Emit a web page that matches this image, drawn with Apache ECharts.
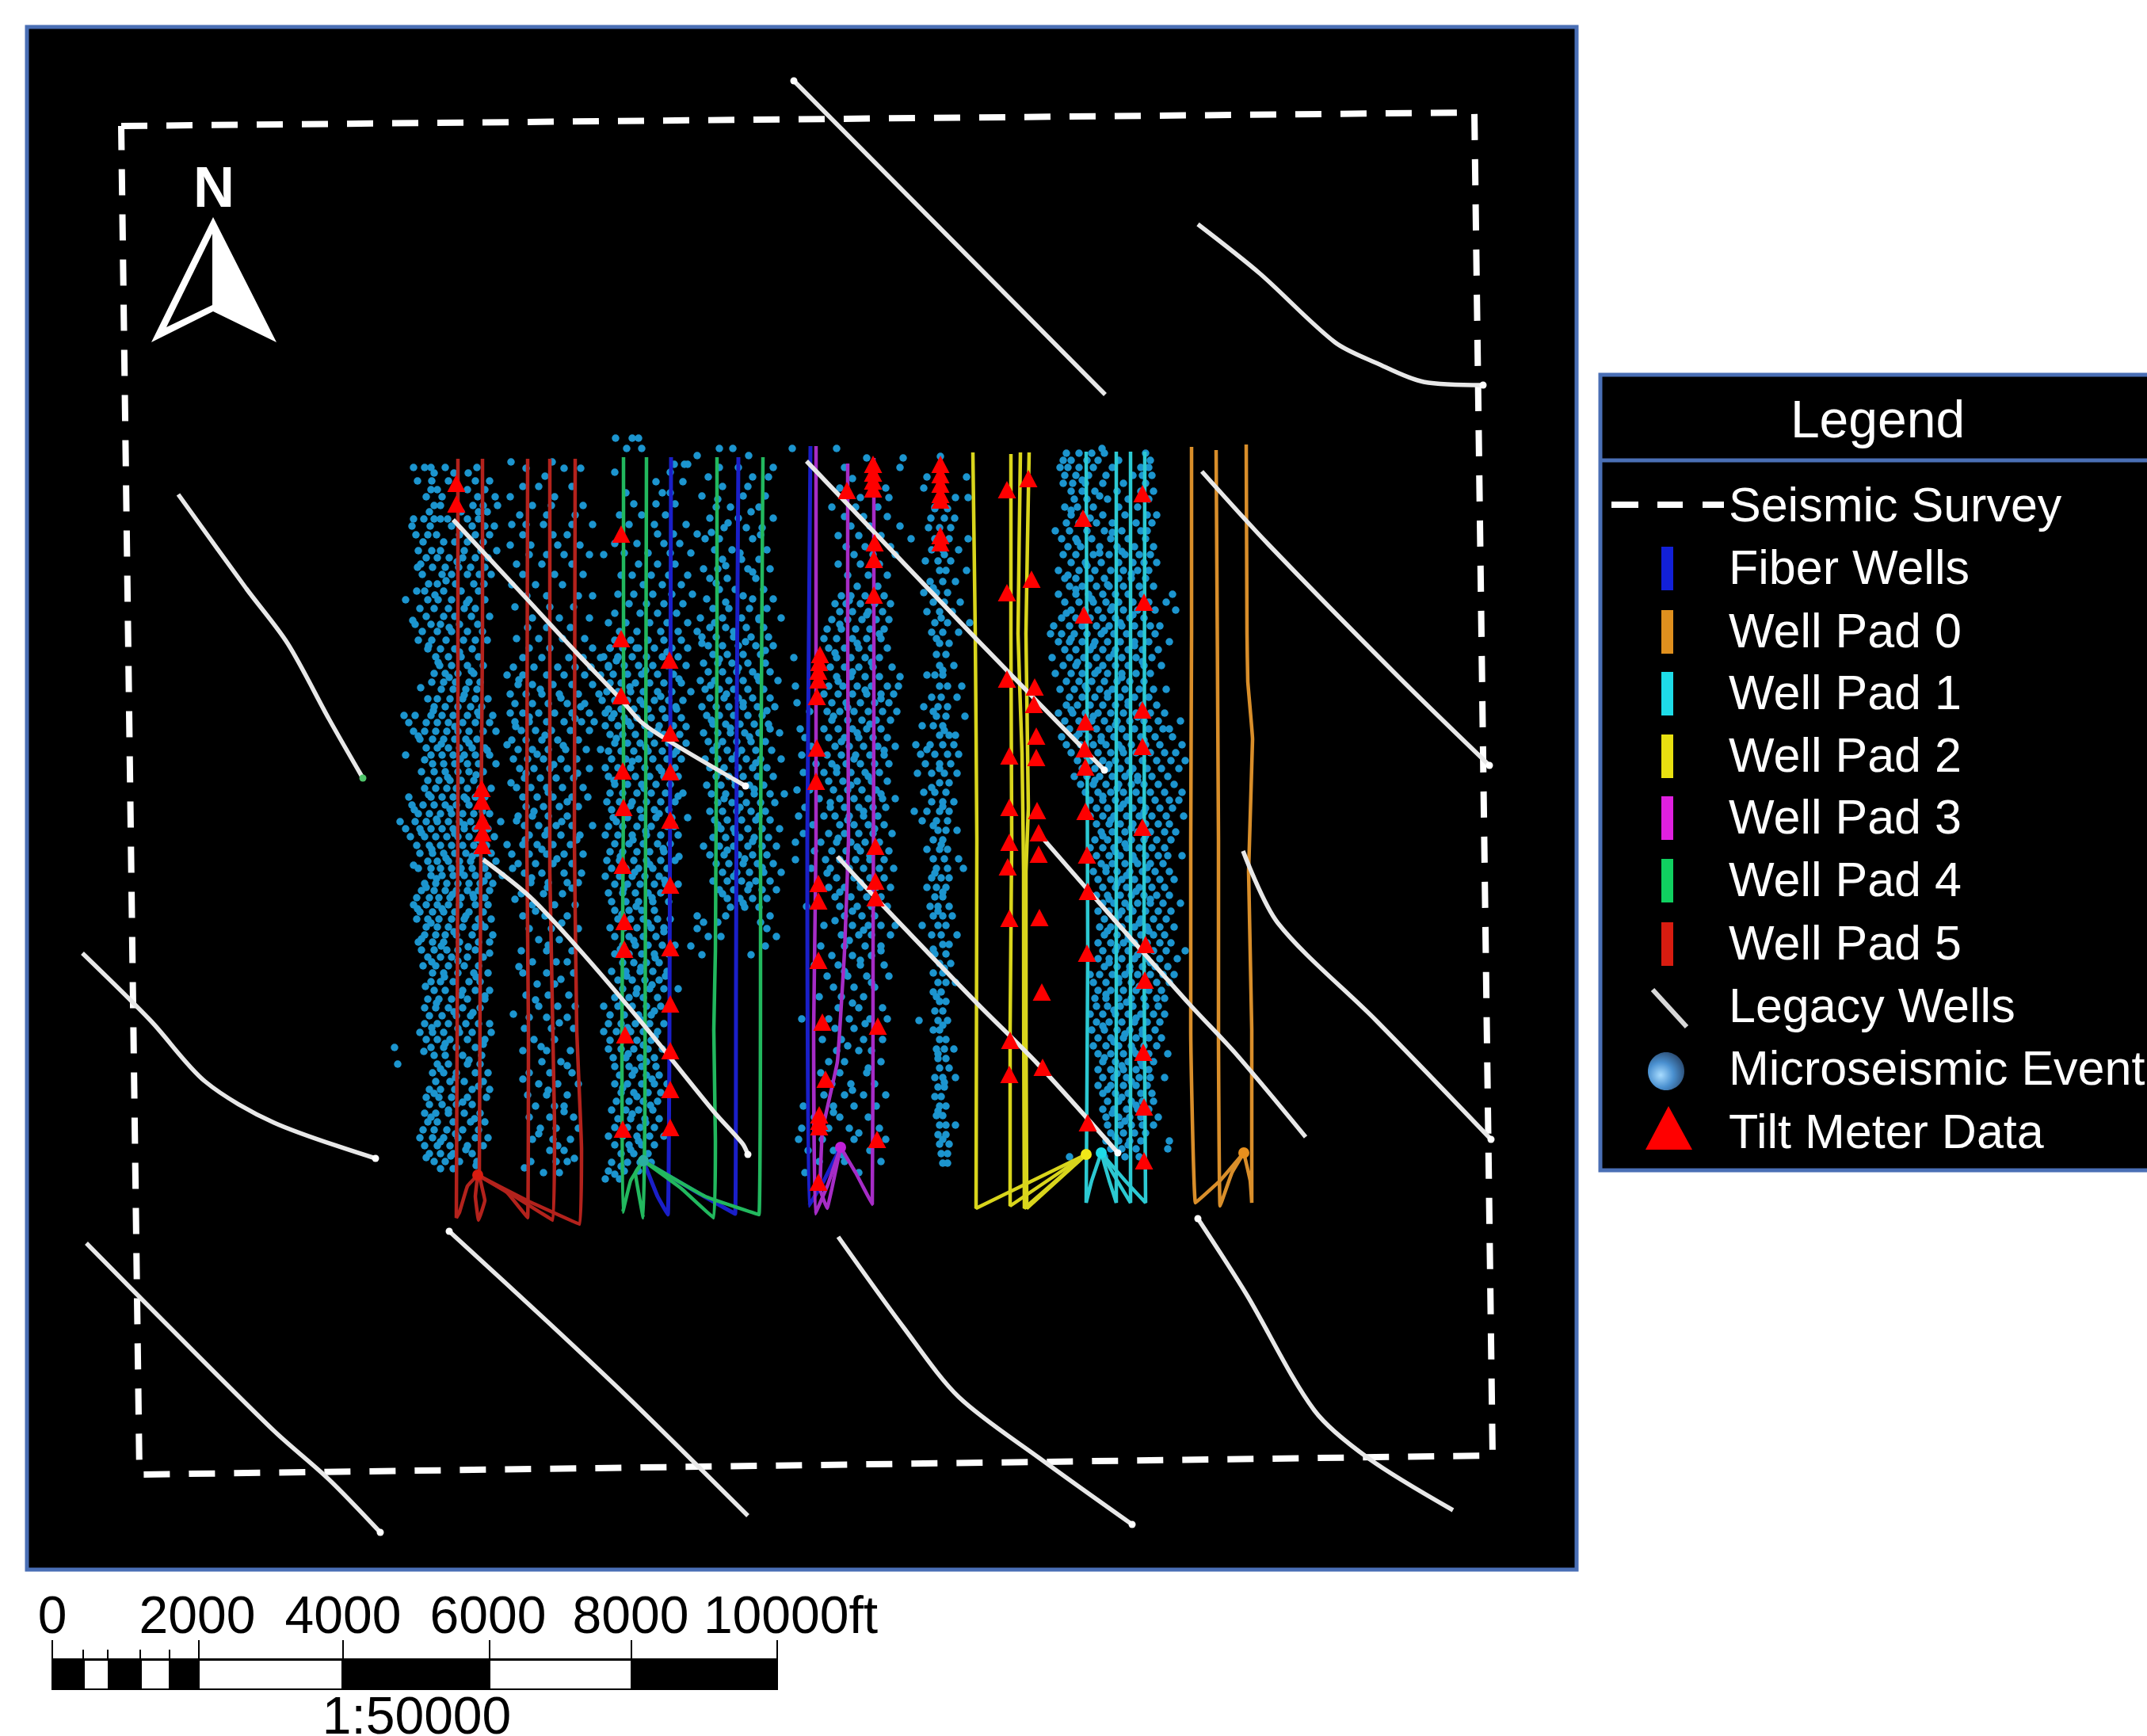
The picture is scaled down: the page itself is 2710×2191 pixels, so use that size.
<!DOCTYPE html>
<html>
<head>
<meta charset="utf-8">
<style>html,body{margin:0;padding:0;background:#fff}#c{width:2710px;height:2191px}</style>
<script src="https://cdn.jsdelivr.net/npm/echarts@6/dist/echarts.min.js"></script>
</head>
<body>
<div id="c"></div>
<script>
// All map data are in picture coordinates.
const surveyBoundary = [[153,159],[1861,142],[1884,1837],[176,1861],[153,159]];

const legacyWells = [
 [[1395,498],[1002,102]],
 [[1512,283],[1590,345],[1685,432],[1737,458],[1797,482],[1872,486]],
 [[1517,595],[1600,686],[1767,856],[1880,966]],
 [[1569,1074],[1613,1165],[1737,1288],[1882,1438]],
 [[1318,1060],[1373,1123],[1501,1267],[1560,1330],[1648,1435]],
 [[1018,582],[1230,804],[1394,972]],
 [[1057,1081],[1107,1135],[1230,1263],[1310,1343],[1411,1455]],
 [[572,656],[667,758],[726,822],[784,883],[809,911],[844,935],[941,992]],
 [[610,1085],[669,1132],[730,1197],[812,1293],[901,1403],[937,1443],[944,1457]],
 [[225,624],[311,743],[363,812],[415,907],[458,982]],
 [[104,1203],[190,1288],[259,1365],[346,1417],[474,1462]],
 [[109,1569],[207,1668],[346,1806],[415,1867],[480,1934]],
 [[944,1913],[795,1766],[691,1668],[567,1554]],
 [[1058,1561],[1141,1676],[1210,1763],[1313,1841],[1429,1924]],
 [[1834,1906],[1728,1841],[1659,1780],[1573,1633],[1512,1538]]
];

const fiberWells = [
 [[812,1465],[830,1510],[843,1533],[845,1300],[847,577]],
 [[812,1465],[880,1505],[928,1532],[929,1250],[930,900],[932,577]],
 [[1061,1448],[1040,1490],[1021,1522],[1019,1060],[1023,563]]
];
const wellPad0 = [
 [[1570,1455],[1540,1490],[1509,1518],[1503,1300],[1503,1060],[1504,800],[1504,564]],
 [[1570,1455],[1555,1480],[1540,1522],[1538,1300],[1538,1060],[1535,568]],
 [[1570,1455],[1578,1490],[1580,1518],[1580,1300],[1576,1100],[1581,933],[1575,860],[1574,800],[1573,561]]
];
const wellPad1 = [
 [[1390,1455],[1378,1490],[1371,1518],[1373,1200],[1371,570]],
 [[1390,1455],[1400,1490],[1409,1518],[1409,570]],
 [[1390,1455],[1410,1490],[1427,1518],[1427,570]],
 [[1390,1455],[1420,1490],[1446,1518],[1444,1200],[1445,570]]
];
const wellPad2 = [
 [[1371,1457],[1232,1525],[1233,1060],[1231,800],[1228,571]],
 [[1371,1457],[1275,1522],[1275,1300],[1277,1060],[1276,800],[1276,573]],
 [[1371,1457],[1293,1525],[1292,1100],[1290,950],[1285,800],[1288,571]],
 [[1371,1457],[1296,1525],[1295,1100],[1298,1020],[1295,800],[1299,571]]
];
const wellPad3 = [
 [[1061,1448],[1045,1495],[1029,1532],[1027,1300],[1030,1060],[1030,563]],
 [[1061,1448],[1050,1500],[1044,1525],[1035,1500],[1038,1427],[1057,1340],[1066,1200],[1071,1060],[1070,800],[1070,585]],
 [[1061,1448],[1080,1480],[1101,1520],[1102,1200],[1103,900],[1103,578]]
];
const wellPad4 = [
 [[812,1465],[796,1490],[786,1530],[785,1300],[787,1000],[787,577]],
 [[812,1465],[802,1480],[812,1537],[814,1400],[815,1000],[816,577]],
 [[812,1465],[860,1500],[901,1537],[903,1440],[901,1300],[903,1200],[905,800],[905,577]],
 [[812,1465],[890,1510],[958,1533],[960,1173],[960,1060],[963,577]]
];
const wellPad5 = [
 [[603,1483],[590,1497],[580,1530],[576,1537],[577,1300],[578,1000],[578,579]],
 [[603,1483],[600,1510],[604,1540],[612,1515],[605,1483],[607,1060],[609,800],[609,579]],
 [[603,1483],[640,1505],[666,1537],[667,1300],[665,1060],[666,579]],
 [[603,1483],[650,1510],[698,1540],[700,1420],[694,1100],[694,579]],
 [[603,1483],[665,1515],[732,1545],[734,1450],[728,1300],[725,1060],[726,579]]
];

const tiltMeters = [
 [576,610],[576,636],[784,674],[784,806],[845,833],[784,878],[846,925],[786,973],[846,974],[787,1019],[846,1035],[786,1092],
 [608,995],[608,1011],[609,1036],[609,1051],[609,1067],[846,1117],[788,1163],[846,1196],[788,1198],[846,1267],[789,1306],[846,1326],[846,1375],[786,1425],[846,1423],
 [1069,619],[1102,586],[1102,597],[1102,607],[1102,617],[1104,685],[1103,706],[1103,751],
 [1187,586],[1187,599],[1187,611],[1187,624],[1187,631],[1187,676],[1187,685],
 [1271,618],[1298,604],[1271,748],[1302,731],[1271,857],[1306,867],[1305,889],[1308,929],[1308,956],[1274,954],[1274,1019],[1309,1023],[1311,1051],[1274,1063],[1311,1078],[1272,1094],
 [1035,826],[1034,836],[1033,847],[1033,858],[1031,879],[1031,944],[1030,986],[1105,1068],
 [1442,623],[1367,654],[1368,776],[1444,760],[1442,896],[1370,911],[1442,942],[1369,945],[1370,968],[1370,1024],[1442,1044],[1372,1079],
 [1033,1115],[1033,1137],[1105,1112],[1105,1133],[1033,1212],[1038,1290],[1108,1295],[1042,1362],[1034,1407],[1034,1415],[1034,1422],[1107,1438],[1033,1492],
 [1274,1159],[1312,1158],[1315,1252],[1275,1313],[1316,1347],[1274,1356],
 [1373,1125],[1372,1203],[1446,1192],[1445,1237],[1443,1328],[1444,1397],[1373,1417],[1444,1465]
];

// Microseismic events: each row is [y, x, x, x ...], one list per swarm.
const eventsA = [
 [590,522,536,544,562,602],[597,548,573,591],[607,527,545,566,600,618],[618,544,552,590,612],[627,538,558,603,625],[638,548,556,597,610,628],
 [646,542,582,604,615],[655,522,535,548,556,565,590,604],[664,520,543,570,596,612,624],[675,525,540,551,580,600,618],[684,534,560,574,590,610],
 [695,528,545,556,586,607,627],[704,538,552,567,584,600,616],[716,527,546,562,579,594,612],[725,533,558,570,590,605,620],[737,541,552,575,598,611],
 [746,526,536,560,582,604],[757,512,540,553,570,592,612],[768,530,548,566,586,600],[778,538,560,574,595,618],[788,524,544,556,580,603],
 [797,533,552,570,590,609],[808,528,545,563,585,600,615],[819,540,556,574,596],[829,550,566,582,604],[840,555,570,590,610],[850,548,562,578,598],
 [861,545,560,575,592,606],[870,557,572,588,602],[882,540,552,568,584,600,616],[892,548,562,578,594,608],[903,510,524,544,558,572,590,605,622],
 [912,516,538,552,566,584,600,618],[923,522,536,550,564,578,592,610,626],[933,530,546,560,574,588,602],[944,538,552,566,580,596,612],
 [953,512,544,558,572,586,600,618],[964,546,560,574,590,604,626],[974,532,548,562,578,592,610],[985,540,554,568,582,598],[995,536,550,564,576,590,606,620],
 [1006,516,544,558,572,586,600,612],[1016,520,534,548,562,576,592,608],[1027,528,542,556,570,584,598,618],[1037,505,524,538,552,566,580,594,610,632],
 [1046,512,530,544,558,572,586,600,616],[1056,518,536,550,564,578,592,608,624],[1067,526,542,556,570,584,598,614],[1077,530,546,560,574,588,602,620],
 [1087,540,552,566,580,594,610,626],[1096,528,544,556,570,582,596,612],[1105,544,558,572,586,600,616,634],[1115,536,550,564,578,592,606,622],
 [1124,532,548,562,576,590,604,618],[1133,526,542,554,568,582,598,612],[1142,522,538,552,566,580,600,616],[1151,530,546,560,574,592,610],
 [1160,526,540,554,570,586,604,620],[1170,538,552,566,584,600,612],[1180,536,550,562,576,596,622],[1189,528,546,560,580,604,618],
 [1199,532,548,564,578,600],[1208,540,556,570,590,610],[1219,534,550,566,586,604],[1228,546,560,578,598,616],[1239,544,556,572,592,606],
 [1250,548,562,584,600,618],[1261,540,554,570,590,612],[1272,536,550,566,584,606],[1282,542,558,576,594],[1292,536,552,566,588,604,618],
 [1303,530,546,560,580,596,620],[1312,538,552,568,590,612],[1322,498,544,560,576,600],[1332,548,562,584,608],[1343,502,552,566,590,606],
 [1354,546,560,576,600,616],[1365,550,568,586,610],[1375,542,556,574,596,618],[1385,538,554,570,590,614],[1394,542,558,576,596],
 [1405,536,550,566,586,606],[1416,540,552,572,594,612],[1426,534,548,564,584,604],[1436,530,546,560,578,600,616],[1446,536,552,568,590,610],
 [1456,542,556,572,596],[1466,548,562,580,602],[1475,556,572]
];
const eventsB = [
 [583,645,697],[591,664,712,733],[601,688],[614,660,680,722],[627,644,700],[638,672,696,736],[650,656,690,726],[662,646,664,686,722,748],
 [675,660,698,716],[688,644,670,704,732],[700,668,690,712,744,762],[712,652,684,722],[725,660,700,736],[738,646,676,710],[752,665,690,730,748],
 [766,650,694,724],[780,672,706,744],[792,666,690,720],[806,652,680,710,738],[818,668,694,748,770],[830,660,684,718,736,758,780],[842,648,674,704,726,746,768],
 [852,640,660,690,712,738,758],[864,654,672,698,722,748],[876,644,664,684,706,730,756],[888,650,672,692,716,738],[900,644,660,680,700,722,744,764],
 [911,650,668,690,712,734,750],[922,658,676,696,720,744],[934,646,664,684,704,730],[946,654,672,692,714,740,758],[958,648,666,686,708,728],
 [970,656,674,694,716,744],[982,662,682,702,724],[994,652,670,690,710,736],[1006,660,678,698,722,742],[1018,664,686,706,730],[1030,654,672,692,716],
 [1042,662,680,702,722,748],[1054,668,688,708,732],[1066,640,660,678,698,720],[1078,646,668,690,712,736],[1090,654,676,698,722],[1102,662,684,712,734],
 [1114,670,692,716,730],[1128,658,686,710],[1142,672,700,726],[1156,660,688,716],[1172,668,696,730],[1186,680,706],[1200,658,690,722],[1214,672,702,716],
 [1228,660,690,724],[1242,678,700],[1256,664,692,718],[1270,680,704,726],[1284,668,690,716],[1298,662,696,724],[1312,674,700],[1326,660,690,720],
 [1340,684,708],[1354,668,694,722],[1368,680,704,730],[1382,666,690,716],[1396,676,700,712],[1410,668,694,724],[1424,682,702,730],[1438,672,698,720],
 [1452,694,712],[1466,670,702,716],[1480,686,706]
];
const eventsC = [
 [553,777,798,806],[566,791,810],[586,864,851,868],[596,776,846],[608,828,862],[622,790,836,846],[636,800,828,852],[650,782,810,840],
 [662,794,826,866],[674,830,850,880],[686,776,804,838,858],[698,788,818,846,872],[712,806,830,852],[726,784,798,822,844,868],[738,812,836,860],
 [750,780,800,824,848,874],[762,794,816,838,862],[774,776,808,830,854],[786,768,790,820,842,868],[797,782,804,834,856,880],[808,776,796,818,838,860],
 [818,770,786,806,826,848,868],[829,762,780,798,816,836,856],[840,768,788,806,824,842,866],[851,774,792,810,830,850],[862,770,784,802,820,838,860],
 [873,766,780,796,812,830,848,872],[884,760,776,792,808,826,844,862],[895,768,784,800,818,836,854],[906,772,788,804,822,840,860],[916,764,780,796,814,832,850],
 [927,770,786,802,820,838,858],[938,776,792,808,826,844,866],[948,768,784,800,818,836,854],[958,772,790,806,824,842,860],[969,764,780,796,814,832,852],
 [980,768,786,802,820,838,856],[990,776,792,810,828,846],[1001,770,786,804,822,840,862],[1012,766,782,798,816,834,852],[1022,772,790,808,826,844],
 [1032,774,792,810,828,848,868],[1043,768,786,804,822,842],[1054,764,780,798,816,834,856],[1065,776,794,812,830,846],[1075,770,786,804,820,838],
 [1086,766,782,800,816,834,852],[1096,772,790,806,824,842],[1106,764,782,798,814,832],[1116,776,792,808,826,840,856],[1127,768,786,802,818,834],
 [1138,772,790,806,824,844],[1149,776,794,810,826],[1160,780,796,812,830,846],[1171,770,788,804,822,838],[1182,776,794,812,828],[1193,786,802,818,836,852],
 [1204,776,794,810,826,844],[1215,786,800,816,832],[1226,772,790,808,824,842],[1237,780,798,814,832],[1248,786,804,820,838,856],[1259,776,794,812,830],
 [1270,762,780,798,816,834],[1281,770,788,806,822],[1292,768,784,802,820,838],[1302,762,778,796,812,830],[1313,770,786,804,822],[1324,768,784,800,818,836],
 [1335,774,790,808,826],[1346,776,794,810,828],[1357,782,798,816,832],[1368,776,792,810,826,842],[1379,784,800,818,834],[1390,778,794,812,830],
 [1401,772,790,806,824],[1412,780,796,814,832],[1423,776,792,808,826],[1434,768,786,804,820,838],[1445,776,794,810,826],[1456,784,800,818],[1467,772,792,808,822],
 [1478,768,788,806],[1488,764,782]
];
const eventsD = [
 [566,908,925],[575,880,945],[590,908,932,976],[602,894,950,970],[614,912,944],[626,886,938,966],[640,904,922,958],[654,896,932,976],[666,914,942,962],
 [680,890,908,950],[694,902,924,968],[706,912,936,958],[718,888,906,944,972],[730,896,918,954],[744,908,928,964],[756,892,950,976],[768,900,920,946,968],
 [780,884,912,936,958,986],[792,896,916,942,964],[804,886,904,926,948,970],[815,894,912,932,954,976],[826,900,918,938,960],[837,888,906,924,944,966],
 [848,894,912,930,950,972],[859,884,902,920,938,958,982],[870,890,908,926,944,964],[881,896,914,932,950,972],[892,886,904,920,938,956,978],
 [903,892,908,926,944,962],[914,900,916,934,952,970],[925,888,906,922,940,958,984],[936,894,912,930,948,966],[947,900,918,936,954,974],[958,890,906,924,942,960,986],
 [969,896,914,932,950,968],[980,904,920,938,956,976],[991,892,910,928,946,964],[1002,898,916,934,952,972,990],[1013,906,924,942,960,978],[1024,896,912,930,948,966],
 [1035,902,918,936,954,972],[1046,910,926,944,962,984],[1057,900,916,934,952,970],[1068,888,908,926,944,962,980],[1079,896,914,932,950,968],[1090,904,920,938,956,976],
 [1101,912,930,946,964,986],[1112,900,918,936,954,972],[1123,908,926,944,962,980],[1134,918,934,950,968],[1145,922,940,958],[1156,880,916,972],[1164,888,906,960],
 [1172,880,968],[1182,894,910,980],[1194,872,966],[1205,886,948]
];
const eventsE = [
 [566,1000,1056],[578,1094,1140],[590,1066,1136],[604,1076,1100],[616,1060,1118],[628,1068,1086,1122],[640,1080,1108,1050],[652,1066,1090,1120],[664,1074,1098,1136],
 [676,1058,1084,1112],[690,1068,1092,1124],[700,1078,1102,1130],[712,1058,1086,1110],[726,1070,1096,1120],[740,1082,1108],[752,1062,1074,1092,1116],[762,1054,1068,1086,1104,1124],
 [772,1060,1076,1096,1114],[782,1050,1070,1088,1106,1122],[794,1044,1062,1080,1098,1116],[806,1040,1056,1076,1094,1112],[818,1046,1066,1084,1100,1120],[830,1002,1056,1074,1092,1110],
 [842,1048,1066,1084,1102,1126],[854,1056,1074,1092,1110,1136],[866,1004,1046,1064,1082,1100,1120,1134],[876,1040,1058,1076,1094,1112,1128],[887,1006,1050,1068,1086,1104,1122],
 [898,1022,1044,1060,1078,1096,1114,1132],[909,1050,1070,1088,1106,1124],[920,1010,1040,1058,1076,1094,1112],[931,1016,1046,1066,1084,1102,1120],[942,1024,1054,1072,1090,1108,1130],
 [953,1012,1044,1062,1080,1098,1116],[964,1030,1050,1068,1086,1104,1122],[975,1014,1040,1056,1074,1092,1110],[986,1046,1064,1082,1100,1120],[997,1006,1022,1052,1070,1088,1106],
 [1008,1034,1060,1078,1096,1114,1130],[1019,1016,1048,1066,1084,1102,1118],[1030,1008,1040,1054,1072,1090,1108],[1041,1026,1060,1078,1096,1116],[1052,1014,1046,1066,1084,1102,1126],
 [1063,1004,1036,1056,1074,1092,1110],[1074,1028,1050,1068,1086,1104,1122],[1085,1004,1042,1060,1080,1098,1116],[1096,1024,1048,1072,1090,1110,1128],[1108,1056,1078,1098,1116],
 [1120,1046,1066,1086,1106,1124],[1132,1054,1074,1094,1112],[1144,1018,1060,1082,1100,1120],[1156,1066,1088,1104],[1168,1040,1076,1096,1112,1130],[1180,1062,1084,1100,1124],
 [1194,1036,1066,1092,1112],[1206,1050,1076,1100],[1218,1028,1058,1086,1116],[1232,1044,1070,1094,1122],[1246,1052,1078,1104],[1258,1034,1062,1090],[1272,1058,1084,1114],
 [1286,1012,1046,1072,1098,1120],[1298,1054,1078,1108],[1312,1038,1062,1090,1114],[1326,1056,1084,1100],[1340,1046,1066,1112],[1354,1036,1060,1094],[1368,1050,1074,1104],
 [1382,1040,1066,1090,1118],[1396,1014,1052,1078,1106],[1410,1028,1060,1096],[1424,1012,1046,1072,1110],[1438,1008,1038,1078,1118],[1452,1020,1052,1098],[1466,1034,1066,1112],[1480,1016,1084]
];
const eventsF = [
 [576,1187],[590,1187],[602,1170,1220],[616,1166],[628,1206,1222],[642,1180,1196],[654,1175,1192,1205],[666,1172,1186,1200],[680,1180,1198,1150,1222],[694,1176,1190,1210],
 [708,1168,1184,1200],[720,1186,1194,1220],[734,1174,1190,1206],[748,1166,1182,1196],[760,1178,1192,1212],[772,1170,1186,1202],[786,1180,1196,1224],[798,1176,1190,1210],
 [812,1186,1198],[826,1182,1194],[840,1186,1204],[852,1180,1190,1170],[866,1186,1196,1214],[880,1176,1188,1208],[892,1166,1184,1196],[904,1182,1194,1218],[916,1178,1190,1164],
 [928,1186,1198,1206],[940,1156,1174,1190,1204],[952,1162,1180,1196,1210],[964,1168,1186,1200],[976,1158,1176,1192,1208],[988,1186,1198],[1000,1166,1180,1194],
 [1012,1176,1190,1204],[1024,1154,1170,1186,1198],[1036,1164,1182,1196],[1048,1184,1194,1208],[1060,1178,1190],[1072,1170,1186,1196],[1084,1178,1192,1210],[1096,1182,1196,1216],
 [1108,1176,1188,1198],[1120,1170,1182,1194],[1132,1180,1190],[1144,1174,1184,1198],[1156,1178,1190,1202],[1168,1164,1184,1194],[1180,1176,1188,1208],[1192,1190,1198],
 [1204,1180,1194],[1216,1186,1200],[1228,1178,1190],[1240,1184,1194,1206],[1252,1178,1188],[1264,1186,1194],[1276,1180,1190],[1288,1184,1196,1160],[1300,1178,1186],[1312,1186,1194],
 [1324,1182,1192,1204],[1336,1184,1194],[1348,1186,1198],[1360,1180,1190,1206],[1372,1184,1192],[1384,1180,1188],[1396,1186,1194],[1408,1182,1190],[1420,1186,1194,1206],
 [1432,1184,1194],[1444,1186,1198],[1456,1188,1196],[1468,1190,1196]
];
const eventsG = [
 [566,1391],[572,1346,1362,1378,1394,1446],[581,1342,1352,1372,1386,1412,1452],[590,1338,1348,1362,1380,1404,1440,1450],[600,1344,1358,1374,1396,1430,1442,1454],
 [610,1342,1354,1370,1392,1418,1446],[620,1352,1366,1382,1410,1440,1456],[630,1356,1372,1398,1424,1450],[640,1344,1360,1380,1412,1436],[650,1352,1368,1392,1420,1448,1460],
 [660,1346,1362,1384,1404,1434,1454],[670,1332,1350,1372,1394,1416,1440,1448],[680,1340,1358,1378,1402,1424,1446],[690,1348,1364,1388,1410,1432,1456],[700,1342,1358,1380,1400,1420,1438,1452],
 [710,1352,1370,1390,1412,1430,1444,1460],[720,1336,1362,1382,1402,1418,1436,1450],[730,1344,1358,1376,1394,1412,1428,1446],[740,1350,1366,1384,1400,1418,1438,1456],
 [750,1336,1358,1374,1392,1408,1424,1442,1480],[760,1344,1362,1380,1396,1412,1430,1450,1472],[770,1352,1370,1386,1402,1418,1436,1458,1484],[780,1340,1358,1376,1392,1408,1426,1444],
 [790,1330,1350,1366,1384,1400,1416,1432,1452,1464],[800,1326,1340,1356,1372,1390,1406,1422,1440,1458],[810,1336,1350,1366,1382,1398,1414,1432,1450,1476],[820,1344,1358,1376,1392,1408,1424,1442,1462],
 [830,1328,1350,1368,1384,1400,1416,1434,1454],[840,1342,1358,1374,1392,1408,1424,1444,1466],[850,1332,1352,1366,1382,1398,1416,1434,1452],[860,1346,1362,1378,1394,1410,1426,1444],
 [870,1338,1356,1372,1388,1404,1420,1438,1456,1472],[880,1350,1366,1382,1398,1414,1432,1450],[890,1346,1360,1376,1392,1408,1424,1442,1460],[900,1336,1354,1370,1386,1402,1418,1434,1452,1470],
 [910,1344,1362,1378,1394,1410,1426,1444,1462,1490],[920,1350,1368,1384,1400,1416,1432,1450,1468,1476],[930,1340,1358,1374,1390,1406,1422,1440,1458,1480],[940,1346,1364,1380,1396,1412,1428,1446,1464,1492],
 [950,1352,1370,1386,1402,1418,1434,1452,1470,1484],[960,1360,1376,1392,1408,1424,1442,1460,1478,1496],[970,1366,1382,1398,1414,1430,1448,1466,1488],[980,1356,1372,1388,1404,1420,1436,1454,1474],
 [990,1364,1380,1396,1412,1428,1444,1462,1482],[1000,1370,1386,1402,1418,1434,1452,1470,1492],[1010,1376,1392,1408,1424,1440,1458,1476,1488],[1020,1384,1398,1414,1430,1446,1464,1480],
 [1030,1376,1392,1406,1422,1438,1454,1472,1494],[1040,1384,1400,1414,1430,1446,1462,1476],[1050,1390,1404,1420,1436,1452,1470,1484],[1060,1382,1398,1412,1428,1444,1460,1478],
 [1070,1376,1392,1406,1422,1438,1454,1470],[1080,1384,1400,1414,1430,1446,1462,1474,1492],[1090,1390,1404,1420,1436,1452,1468],[1100,1380,1396,1410,1426,1442,1458,1476],
 [1110,1386,1402,1416,1432,1448,1464,1482],[1120,1392,1408,1422,1438,1454,1470],[1130,1384,1398,1414,1428,1444,1460,1476],[1140,1392,1406,1420,1436,1452,1468,1490],
 [1150,1386,1400,1416,1430,1446,1462,1478],[1160,1394,1408,1424,1440,1456,1472],[1170,1388,1402,1416,1432,1448,1464,1482],[1180,1394,1410,1424,1440,1456,1470],
 [1190,1386,1402,1418,1432,1448,1464,1478],[1200,1392,1408,1424,1440,1456,1472,1496],[1210,1386,1400,1416,1432,1448,1464,1486],[1220,1394,1410,1426,1442,1458,1474],
 [1230,1376,1388,1404,1420,1436,1452,1468,1482],[1240,1380,1396,1412,1428,1444,1460,1476],[1250,1386,1402,1418,1434,1450,1466],[1260,1382,1396,1412,1428,1444,1460,1470],
 [1270,1384,1398,1414,1430,1446,1462],[1280,1376,1392,1408,1424,1440,1456,1470],[1290,1384,1400,1416,1432,1448,1464],[1300,1378,1394,1410,1426,1442,1458],
 [1310,1386,1402,1418,1434,1450,1466],[1320,1380,1396,1412,1428,1444,1460],[1330,1386,1402,1418,1434,1450,1474],[1340,1392,1408,1424,1440,1456],[1350,1386,1402,1418,1434,1450],
 [1360,1392,1406,1422,1438,1452,1470],[1370,1386,1402,1418,1434,1448],[1380,1392,1408,1424,1440,1454],[1390,1398,1412,1428,1442,1456],[1400,1392,1406,1422,1436,1450],
 [1410,1396,1412,1426,1440,1462],[1420,1398,1414,1428,1442,1456],[1430,1402,1418,1432,1446],[1440,1396,1412,1426,1440,1476],[1450,1402,1416,1434,1474],[1460,1350,1394,1420,1438]
];
// Further events placed individually as [x, y] where the swarms are thickest.
const eventsExtra = [
 [531,712],[563,733],[577,709],[549,751],[589,761],[521,783],[567,792],[541,815],[580,823],[553,836],[595,847],[567,855],[531,868],[586,877],[547,897],[603,899],[574,917],[528,929],[557,939],[592,938],[615,947],[536,959],[581,958],[565,981],[601,978],[541,1003],[589,1009],[523,1022],[568,1021],[609,1024],[551,1034],[586,1041],[532,1051],[574,1052],[604,1060],[545,1072],[563,1083],[596,1081],[522,1092],[581,1101],[551,1109],[611,1112],[538,1120],[571,1129],[597,1129],[527,1147],[558,1147],[588,1156],[544,1165],[607,1166],[573,1176],[532,1185],[557,1194],[591,1195],[618,1203],[545,1214],[578,1213],[561,1233],[601,1233],[537,1245],[582,1256],[612,1257],[551,1266],[573,1277],[597,1278],[545,1297],[578,1298],[562,1317],[610,1318],[535,1327],[592,1338],[556,1349],[575,1360],[604,1371],[548,1380],[584,1391],[566,1401],[544,1410],[599,1412],[575,1431],[556,1441],[588,1451],[538,1461],[569,1459],[601,1471],
 [655,858],[682,870],[708,881],[733,892],[668,905],[726,907],[651,917],[688,928],[711,941],[640,940],[678,952],[699,965],[664,976],[729,976],[645,988],[692,1000],[716,1012],[674,1024],[652,1036],[709,1037],[691,1048],[663,1060],[728,1060],[684,1072],[703,1084],[647,1096],[671,1108],[691,1120],[722,1121],[650,1135],[676,1150],[709,1165],[692,1193],[655,1220],[708,1236],[676,1262],[648,1280],[706,1291],[683,1321],[716,1345],[660,1362],[692,1376],[712,1403],[680,1431],[704,1446],[725,1462],[662,1474],
 [803,818],[842,823],[778,834],[815,846],[857,857],[795,867],[834,879],[775,901],[812,889],[853,892],[793,911],[830,922],[866,917],[778,932],[815,943],[850,952],[798,961],[835,973],[775,985],[813,995],[856,1005],[796,1017],[832,1027],[778,1037],[815,1049],[851,1043],[799,1060],[837,1071],[783,1081],[820,1091],[857,1081],[801,1101],[839,1111],[787,1122],[823,1133],[803,1144],[785,1154],[818,1165],[838,1176],[800,1187],[783,1198],[827,1209],[809,1221],[791,1232],[840,1232],[823,1243],[803,1254],[786,1265],[826,1276],[809,1287],[792,1297],[827,1308],[812,1319],[793,1330],[816,1340],[801,1351],[823,1362],[786,1373],[804,1384],[821,1395],[798,1406],[815,1417],[788,1428],[806,1440],[796,1451],[812,1462],[784,1472],[776,1482],
 [906,630],[948,646],[919,660],[898,672],[960,675],[934,698],[916,714],[950,722],[904,736],[938,752],[916,760],[958,782],[902,786],[926,797],[886,812],[941,810],[966,821],[908,832],[932,843],[956,854],[897,865],[917,876],[938,887],[968,897],[898,909],[922,919],[946,930],[972,920],[905,941],[930,952],[954,963],[909,974],[928,986],[952,996],[914,1008],[934,1019],[958,1030],[906,1041],[928,1051],[950,1062],[918,1073],[940,1084],[962,1095],[926,1106],[946,1117],[912,1128],[938,1140],
 [1072,758],[1094,776],[1060,788],[1110,800],[1082,812],[1054,824],[1100,836],[1076,848],[1058,860],[1092,871],[1112,882],[1070,893],[1052,904],[1098,914],[1082,925],[1062,936],[1116,947],[1078,958],[1056,969],[1096,980],[1074,991],[1112,1002],[1048,1013],[1090,1024],[1070,1035],[1104,1046],[1058,1058],[1082,1069],[1098,1080],[1068,1090],[1044,1102],[1086,1114],[1060,1126],[1104,1138],[1076,1150],[1054,1162],[1090,1174],[1072,1187],[1112,1200],[1086,1212],[1066,1226],[1100,1240],[1076,1266],[1092,1292],[1070,1320],[1096,1348],[1076,1376],[1052,1404],[1084,1430],[1064,1458],
 [1180,640],[1192,700],[1178,742],[1188,780],[1182,806],[1190,846],[1178,898],[1192,922],[1170,946],[1186,970],[1176,994],[1190,1018],[1178,1042],[1188,1066],[1180,1102],[1190,1126],[1184,1150],[1178,1198],[1192,1222],[1182,1258],[1190,1294],[1184,1330],[1192,1366],[1184,1402],[1190,1438],
 [1366,606],[1388,626],[1352,644],[1376,654],[1404,672],[1360,684],[1388,698],[1416,696],[1372,714],[1348,726],[1398,738],[1428,724],[1358,744],[1378,756],[1404,766],[1346,774],[1430,776],[1368,785],[1394,796],[1414,786],[1352,806],[1380,815],[1406,825],[1432,815],[1360,836],[1386,846],[1416,855],[1442,835],[1370,866],[1398,875],[1424,886],[1352,896],[1380,904],[1408,915],[1436,905],[1362,926],[1390,935],[1416,945],[1444,934],[1372,955],[1400,965],[1426,975],[1382,985],[1410,995],[1436,985],[1392,1005],[1418,1015],[1444,1025],[1402,1035],[1428,1045],[1392,1055],[1420,1065],[1446,1055],[1408,1075],[1432,1085],[1396,1095],[1422,1105],[1448,1095],[1410,1115],[1434,1125],[1400,1135],[1426,1145],[1452,1135],[1412,1155],[1438,1165],[1398,1175],[1424,1185],[1450,1175],[1410,1195],[1436,1205],[1400,1215],[1426,1225],[1452,1215],[1412,1235],[1438,1245],[1396,1255],[1422,1265],[1406,1275],[1434,1285],[1392,1295],[1420,1305],[1442,1305],[1406,1315],[1430,1325],[1394,1335],[1416,1345],[1442,1345],[1410,1355],[1428,1365],[1398,1375],[1416,1385],[1434,1395],[1404,1405],[1420,1415],[1408,1435],[1424,1445]
];

const legendTitle = 'Legend';
const legendLabels = ['Seismic Survey','Fiber Wells','Well Pad 0','Well Pad 1','Well Pad 2','Well Pad 3','Well Pad 4','Well Pad 5','Legacy Wells','Microseismic Event','Tilt Meter Data'];
const legendColors = [null,'#1220d8',"#e0901e",'#1edce8','#e8e010','#e020e0','#10d060','#d81c10'];
const scaleLabels = ['0','2000','4000','6000','8000','10000ft'];
const scaleRatio = '1:50000';
const northLabel = 'N';

const FONT = '"Liberation Sans", Arial, sans-serif';
const C_LINE = {fiber:'#1a1fc8', p0:'#d98e2a', p1:'#2cc9d2', p2:'#d9d51c', p3:'#a62cc6', p4:'#22b85e', p5:'#b3221c'};

function wellSeries(name, wells, color, width){
  return wells.map((w,i)=>({
    type:'line', name:name+' '+(i+1), data:w, symbol:'none', z:4, smooth:0.08,
    lineStyle:{color, width:width||4.5}, silent:true
  }));
}
function events(rows){ const out=[]; rows.forEach(r=>{ for(let i=1;i<r.length;i++) out.push([r[i],r[0]]); }); return out; }

const allEvents = [eventsA,eventsB,eventsC,eventsD,eventsE,eventsF,eventsG].flatMap(events).concat(eventsExtra);

const series = [
  {type:'scatter',name:'Microseismic Event',data:allEvents,symbol:'circle',symbolSize:9.5,z:3,progressive:0,large:false,
   itemStyle:{color:'#1c95cf',opacity:1}},
  ...wellSeries('Fiber Wells',fiberWells,C_LINE.fiber,5),
  ...wellSeries('Well Pad 0',wellPad0,C_LINE.p0),
  ...wellSeries('Well Pad 1',wellPad1,C_LINE.p1),
  ...wellSeries('Well Pad 2',wellPad2,C_LINE.p2),
  ...wellSeries('Well Pad 3',wellPad3,C_LINE.p3),
  ...wellSeries('Well Pad 4',wellPad4,C_LINE.p4),
  ...wellSeries('Well Pad 5',wellPad5,C_LINE.p5),
  {type:'scatter',name:'Pad heads',z:5,symbolSize:14,
   data:[{value:wellPad5[0][0],itemStyle:{color:'#d81c10',opacity:1}},{value:wellPad3[0][0],itemStyle:{color:'#c020d8',opacity:1}},
         {value:wellPad2[0][0],itemStyle:{color:'#f0e818',opacity:1}},{value:wellPad1[0][0],itemStyle:{color:'#1edce8',opacity:1}},
         {value:wellPad0[0][0],itemStyle:{color:'#e8901e',opacity:1}},{value:wellPad4[0][0],itemStyle:{color:'#2ab0a0',opacity:1}}]},
  ...legacyWells.map((w,i)=>({type:'line',name:'Legacy '+(i+1),data:w,symbol:'none',z:6,smooth:0.3,
    lineStyle:{color:'#e8e8e8',width:5.5},silent:true})),
  {type:'scatter',name:'Legacy ends',z:6,symbolSize:9,
   data:legacyWells.filter((w,i)=>i!==4).map(w=>({value:w[w.length-1],itemStyle:{opacity:1,color:w===legacyWells[9]?'#4fc46a':'#ffffff'}}))},
  {type:'line',name:'Seismic Survey',data:surveyBoundary,symbol:'none',z:5,
   lineStyle:{color:'#ffffff',width:8,type:[33,24],cap:'butt'},silent:true},
  {type:'scatter',name:'Tilt Meter Data',data:tiltMeters,symbol:'triangle',symbolSize:[23,22],z:8,itemStyle:{color:'#ff0000',opacity:1}}
];

const g = [];
// map panel
g.push({type:'rect',z:-1,shape:{x:34,y:34,width:1956,height:1947},style:{fill:'#000',stroke:'#4a6fb5',lineWidth:5}});
// north arrow
g.push({type:'polygon',z:10,shape:{points:[[269,274],[349,432],[269,393],[191,432]]},style:{fill:'#fff'}});
g.push({type:'polygon',z:11,shape:{points:[[268,295],[268,385],[210,413]]},style:{fill:'#000'}});
g.push({type:'text',z:11,style:{text:northLabel,x:270,y:241,font:'bold 72px '+FONT,fill:'#fff',textAlign:'center',textVerticalAlign:'middle'}});
// legend panel
g.push({type:'rect',z:-1,shape:{x:2020,y:473,width:720,height:1004},style:{fill:'#000',stroke:'#4a6fb5',lineWidth:5}});
g.push({type:'line',z:1,shape:{x1:2020,y1:581,x2:2710,y2:581},style:{stroke:'#4a6fb5',lineWidth:5}});
g.push({type:'text',z:2,style:{text:legendTitle,x:2370,y:534,font:'66px '+FONT,fill:'#fff',textAlign:'center',textVerticalAlign:'middle'}});
const rowsY=[641,720,800,878,957,1035,1114,1194,1273,1352,1432];
legendLabels.forEach((t,i)=>{
  g.push({type:'text',z:2,style:{text:t,x:2182,y:rowsY[i],font:'61px '+FONT,fill:'#fff',textAlign:'left',textVerticalAlign:'middle'}});
  if(legendColors[i]) g.push({type:'rect',z:2,shape:{x:2097,y:rowsY[i]-30,width:15,height:55},style:{fill:legendColors[i]}});
});
[[2034,2068],[2092,2124],[2149,2176]].forEach(d=>g.push({type:'rect',z:2,shape:{x:d[0],y:633,width:d[1]-d[0],height:8},style:{fill:'#fff'}}));
g.push({type:'line',z:2,shape:{x1:2086,y1:1249,x2:2129,y2:1296},style:{stroke:'#d8d8d8',lineWidth:6}});
g.push({type:'ellipse',z:2,shape:{cx:2103,cy:1352,rx:23,ry:24},style:{fill:{type:'radial',x:0.35,y:0.6,r:0.7,colorStops:[{offset:0,color:'#a8dcff'},{offset:0.5,color:'#4a90d0'},{offset:1,color:'#2a4a70'}]}}});
g.push({type:'polygon',z:2,shape:{points:[[2106,1396],[2136,1451],[2077,1451]]},style:{fill:'#ff0000'}});
// scale bar
g.push({type:'rect',z:1,shape:{x:65,y:2093,width:917,height:40},style:{fill:'#000'}});
[[107,136],[179,213],[252,431],[619,796]].forEach(s=>g.push({type:'rect',z:2,shape:{x:s[0],y:2096,width:s[1]-s[0],height:35},style:{fill:'#fff'}}));
[66,251,433,618,797,981].forEach(x=>g.push({type:'line',z:2,shape:{x1:x,y1:2070,x2:x,y2:2094},style:{stroke:'#000',lineWidth:2}}));
[105,136,177,214].forEach(x=>g.push({type:'line',z:2,shape:{x1:x,y1:2082,x2:x,y2:2094},style:{stroke:'#000',lineWidth:2}}));
const scaleX=[66,249,433,616,796,998];
scaleLabels.forEach((t,i)=>g.push({type:'text',z:2,style:{text:t,x:scaleX[i],y:2043,font:'66px '+FONT,fill:'#000',textAlign:'center',textVerticalAlign:'middle'}}));
g.push({type:'text',z:2,style:{text:scaleRatio,x:526,y:2170,font:'66px '+FONT,fill:'#000',textAlign:'center',textVerticalAlign:'middle'}});

const chart = echarts.init(document.getElementById('c'),null,{renderer:'canvas'});
chart.setOption({
  animation:false,
  backgroundColor:'#ffffff',
  grid:{left:0,right:0,top:0,bottom:0,containLabel:false},
  xAxis:{type:'value',min:0,max:2710,show:false},
  yAxis:{type:'value',min:0,max:2191,inverse:true,show:false},
  tooltip:{show:false},
  series,
  graphic:{elements:g}
});
</script>
</body>
</html>
